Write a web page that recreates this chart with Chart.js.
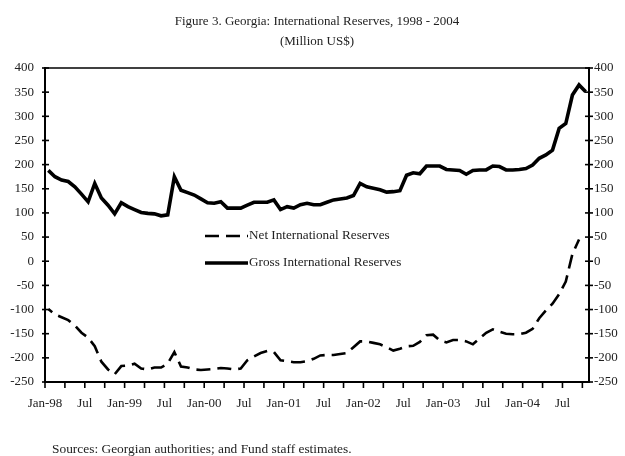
<!DOCTYPE html>
<html><head><meta charset="utf-8">
<script src="https://cdn.jsdelivr.net/npm/chart.js@4.4.1/dist/chart.umd.min.js"></script>
<style>html,body{margin:0;padding:0;background:#fff;}#wrap{position:relative;width:625px;height:456px;}</style>
</head><body><div id="wrap"><canvas id="c" width="625" height="456"></canvas></div>
<script>
const titleLines = ['Figure 3. Georgia: International Reserves, 1998 - 2004', '(Million US$)'];
const sourceNote = 'Sources: Georgian authorities; and Fund staff estimates.';
const seriesNames = ['Net International Reserves', 'Gross International Reserves'];
const months = [
 'Jan-98','Feb-98','Mar-98','Apr-98','May-98','Jun-98','Jul-98','Aug-98','Sep-98','Oct-98','Nov-98','Dec-98',
 'Jan-99','Feb-99','Mar-99','Apr-99','May-99','Jun-99','Jul-99','Aug-99','Sep-99','Oct-99','Nov-99','Dec-99',
 'Jan-00','Feb-00','Mar-00','Apr-00','May-00','Jun-00','Jul-00','Aug-00','Sep-00','Oct-00','Nov-00','Dec-00',
 'Jan-01','Feb-01','Mar-01','Apr-01','May-01','Jun-01','Jul-01','Aug-01','Sep-01','Oct-01','Nov-01','Dec-01',
 'Jan-02','Feb-02','Mar-02','Apr-02','May-02','Jun-02','Jul-02','Aug-02','Sep-02','Oct-02','Nov-02','Dec-02',
 'Jan-03','Feb-03','Mar-03','Apr-03','May-03','Jun-03','Jul-03','Aug-03','Sep-03','Oct-03','Nov-03','Dec-03',
 'Jan-04','Feb-04','Mar-04','Apr-04','May-04','Jun-04','Jul-04','Aug-04','Sep-04','Oct-04'];
const xTickLabels = ['Jan-98','Jul','Jan-99','Jul','Jan-00','Jul','Jan-01','Jul','Jan-02','Jul','Jan-03','Jul','Jan-04','Jul'];
const grossReserves = [
 188,175,168,165,154,139,123,161,131,116,98,121,
 113,107,101,99,98,94,96,175,147,142,137,129,
 121,120,123,110,110,110,116,122,122,122,127,107,
 113,110,117,120,117,117,122,127,129,131,136,161,
 154,151,148,143,144,146,178,183,181,197,197,197,
 190,189,188,180,188,189,189,197,196,189,189,190,
 192,199,213,220,230,275,285,344,365,351];
const netReserves = [
 -99,-110,-116,-122,-133,-148,-158,-176,-208,-224,-234,-217,
 -216,-212,-222,-224,-220,-220,-212,-188,-218,-220,-224,-225,
 -224,-223,-221,-222,-224,-222,-205,-197,-190,-186,-188,-205,
 -207,-209,-209,-207,-202,-195,-194,-194,-192,-190,-178,-166,
 -166,-169,-172,-178,-185,-181,-176,-175,-167,-153,-152,-164,
 -168,-163,-163,-166,-172,-160,-148,-141,-146,-150,-151,-151,
 -148,-140,-118,-102,-88,-68,-42,15,45];
const yMin = -250, yMax = 400, yStep = 50;

const FONT = '"Liberation Serif", "Times New Roman", serif';
const TXT = '#222';
const toPts = arr => arr.map((v, i) => ({x: i + 0.5, y: v}));

const framePlugin = {
  id: 'frame',
  afterDraw(chart) {
    const ctx = chart.ctx, a = chart.chartArea;
    ctx.save();
    ctx.strokeStyle = '#000';
    ctx.lineCap = 'square';
    ctx.lineWidth = 1.5;
    ctx.beginPath(); ctx.moveTo(a.left, a.top); ctx.lineTo(a.right, a.top); ctx.stroke();
    ctx.lineWidth = 2;
    ctx.beginPath();
    ctx.moveTo(a.left, a.top); ctx.lineTo(a.left, a.bottom); ctx.lineTo(a.right, a.bottom); ctx.lineTo(a.right, a.top);
    ctx.stroke();
    ctx.lineWidth = 1.6; ctx.lineCap = 'butt';
    const ys = chart.scales.y, y2 = chart.scales.y2, xs = chart.scales.x;
    ys.ticks.forEach(t => { const p = ys.getPixelForValue(t.value); ctx.beginPath(); ctx.moveTo(a.left - 3, p); ctx.lineTo(a.left + 4, p); ctx.stroke(); });
    y2.ticks.forEach(t => { const p = y2.getPixelForValue(t.value); ctx.beginPath(); ctx.moveTo(a.right - 4, p); ctx.lineTo(a.right + 4, p); ctx.stroke(); });
    xs.ticks.forEach(t => { const p = xs.getPixelForValue(t.value); ctx.beginPath(); ctx.moveTo(p, a.bottom); ctx.lineTo(p, a.bottom + 6); ctx.stroke(); });
    // titles
    ctx.fillStyle = TXT;
    ctx.textAlign = 'center'; ctx.textBaseline = 'middle';
    ctx.font = '13px ' + FONT;
    const cx = (a.left + a.right) / 2;
    ctx.fillText(titleLines[0], cx, 22);
    ctx.fillText(titleLines[1], cx, 42);
    ctx.font = '13.4px ' + FONT;
    ctx.textAlign = 'left';
    ctx.fillText(sourceNote, 52, 449);
    // legend
    const rows = [236, 263];
    chart.data.datasets.forEach((ds, k) => {
      const yy = rows[k];
      ctx.save();
      ctx.strokeStyle = ds.borderColor; ctx.lineWidth = ds.borderWidth;
      ctx.setLineDash(ds.borderDash || []);
      ctx.lineDashOffset = 0;
      ctx.beginPath(); ctx.moveTo(205, yy); ctx.lineTo(248, yy); ctx.stroke();
      ctx.restore();
      ctx.font = '13.2px ' + FONT; ctx.fillStyle = TXT; ctx.textAlign = 'left'; ctx.textBaseline = 'middle';
      ctx.fillText(ds.label, 249, yy);
    });
    ctx.restore();
  }
};

const yAxisCommon = {
  type: 'linear', min: yMin, max: yMax,
  grid: { display: false, drawTicks: false },
  border: { display: false },
  ticks: { stepSize: yStep, color: TXT, font: { family: FONT, size: 13 } }
};

new Chart(document.getElementById('c'), {
  type: 'line',
  data: {
    datasets: [
      { label: seriesNames[0], data: toPts(netReserves), borderColor: '#000', borderWidth: 2.6, borderDash: [14, 7], borderDashOffset: 9, pointRadius: 0, tension: 0, fill: false, yAxisID: 'y' },
      { label: seriesNames[1], data: toPts(grossReserves), borderColor: '#000', borderWidth: 3.6, pointRadius: 0, tension: 0, fill: false, yAxisID: 'y' }
    ]
  },
  options: {
    responsive: false, animation: false, devicePixelRatio: 1,
    layout: { padding: { top: 68, bottom: 44, left: 0, right: 0 } },
    plugins: { legend: { display: false }, tooltip: { enabled: false }, title: { display: false } },
    scales: {
      x: {
        type: 'linear', min: 0, max: months.length,
        grid: { display: false, drawTicks: false }, border: { display: false },
        afterFit: s => { s.height = 30; },
        ticks: {
          stepSize: 3, includeBounds: false, autoSkip: false, maxRotation: 0, padding: 14,
          color: TXT, font: { family: FONT, size: 13 },
          callback: v => (v % 6 === 0 && xTickLabels[v / 6] !== undefined) ? xTickLabels[v / 6] : ''
        }
      },
      y: Object.assign({}, yAxisCommon, { position: 'left', afterFit: s => { s.width = 45; }, ticks: Object.assign({}, yAxisCommon.ticks, { padding: 11 }) }),
      y2: Object.assign({}, yAxisCommon, { position: 'right', afterFit: s => { s.width = 36; }, ticks: Object.assign({}, yAxisCommon.ticks, { padding: 5 }) })
    }
  },
  plugins: [framePlugin]
});
</script></body></html>
